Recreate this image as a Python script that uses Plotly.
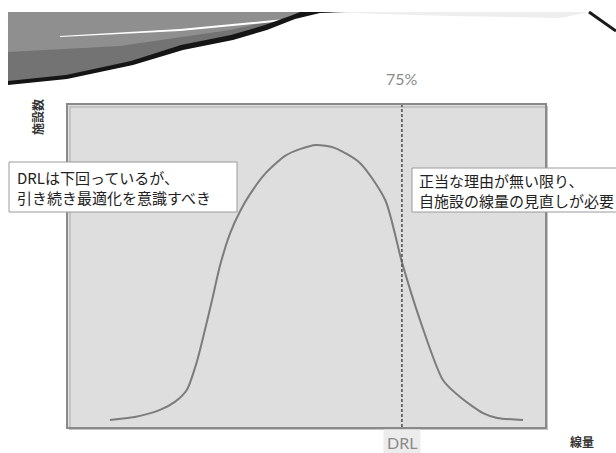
import plotly.graph_objects as go

# Dose distribution across facilities (arbitrary units)
dose = [8.8, 14.0, 19.3, 22.4, 24.9, 27.0, 28.7, 30.2, 31.9, 34.0, 36.1, 38.2,
        41.3, 45.5, 48.6, 52.0, 56.0, 61.2, 66.5, 70.0, 73.8, 78.6, 82.2, 87.0,
        90.0, 95.4]
facilities = [2.2, 3.1, 5.3, 7.8, 11.5, 20.2, 30.1, 39.4, 50.3, 60.2, 67.1, 72.4,
              78.6, 84.2, 86.3, 87.6, 86.6, 82.0, 70.5, 51.2, 33.2, 14.6, 9.3, 4.3,
              2.8, 2.2]
drl_value = 70.0
drl_percentile = "75%"
x_title = "線量"
y_title = "施設数"
note_left = ["DRLは下回っているが、", "引き続き最適化を意識すべき"]
note_right = ["正当な理由が無い限り、", "自施設の線量の見直しが必要"]

W, H = 616, 453
L, R, T, B = 68, 545, 105, 427

JP = "Noto Sans CJK JP"
LAT = "Lato, Noto Sans, sans-serif"


def px(x):
    return (x - L) / (R - L)


def py(y):
    return (B - y) / (B - T)


def path(points, close=True):
    s = "M " + " L ".join(f"{px(x):.4f},{py(y):.4f}" for x, y in points)
    return s + (" Z" if close else "")


fig = go.Figure()

fig.add_trace(go.Scatter(
    x=dose, y=facilities, mode="lines",
    line=dict(color="#7c7c7c", width=2, shape="spline", smoothing=0.7),
    hoverinfo="skip", showlegend=False,
))
fig.add_trace(go.Scatter(
    x=[drl_value, drl_value], y=[0, 100], mode="lines",
    line=dict(color="#555555", width=1.6, dash="3px,2px"),
    hoverinfo="skip", showlegend=False,
))

shapes = []

# decorative swoosh in the header
edge = [(300, 13), (293, 17), (267, 27), (233, 37), (183, 47), (133, 63),
        (67, 77), (8, 83)]
shapes.append(dict(type="path", xref="paper", yref="paper", layer="above",
                   path=path([(8, 12), (330, 12)] + edge),
                   fillcolor="#8f8f8f", line=dict(width=0)))
shapes.append(dict(type="path", xref="paper", yref="paper", layer="above",
                   path=path([(8, 52), (120, 46), (230, 30), (290, 17)] + edge[1:]),
                   fillcolor="#737373", line=dict(width=0)))
shapes.append(dict(type="path", xref="paper", yref="paper", layer="above",
                   path=path([(60, 36), (180, 29), (285, 19), (285, 21), (180, 31),
                              (60, 37)]),
                   fillcolor="#ffffff", line=dict(width=0)))
shapes.append(dict(type="path", xref="paper", yref="paper", layer="above",
                   path=path([(8, 85), (67, 79), (133, 65), (183, 50), (233, 40),
                              (267, 30), (295, 19), (320, 13), (350, 12), (300, 12),
                              (290, 16), (265, 25), (231, 35), (181, 45), (131, 61),
                              (66, 75), (8, 81)]),
                   fillcolor="#151515", line=dict(width=0)))
shapes.append(dict(type="path", xref="paper", yref="paper", layer="above",
                   path=path([(330, 12), (590, 12), (560, 18), (450, 16), (380, 14)]),
                   fillcolor="#eeeeee", line=dict(width=0)))
shapes.append(dict(type="line", xref="paper", yref="paper", layer="above",
                   x0=px(589), y0=py(12), x1=px(616), y1=py(31),
                   line=dict(color="#1a1a1a", width=3)))

# soft shadow behind the plot frame
shapes.append(dict(type="rect", xref="paper", yref="paper", layer="below",
                   x0=px(L + 2), y0=py(B + 2), x1=px(R + 2), y1=py(T + 2),
                   line=dict(color="#c4c4c4", width=2), fillcolor="rgba(0,0,0,0)"))

# note boxes
shapes.append(dict(type="rect", xref="paper", yref="paper", layer="above",
                   x0=px(9), y0=py(212), x1=px(237), y1=py(162),
                   line=dict(color="#9a9a9a", width=1), fillcolor="#ffffff"))
shapes.append(dict(type="rect", xref="paper", yref="paper", layer="above",
                   x0=px(412), y0=py(212), x1=px(640), y1=py(168),
                   line=dict(color="#9a9a9a", width=1), fillcolor="#ffffff"))

annotations = [
    dict(xref="paper", yref="paper", x=px(15), y=py(187), xanchor="left",
         yanchor="middle", align="left", showarrow=False,
         text="<br>".join(note_left),
         font=dict(family=JP, size=15, color="#222222")),
    dict(xref="paper", yref="paper", x=px(417), y=py(190), xanchor="left",
         yanchor="middle", align="left", showarrow=False,
         text="<br>".join(note_right),
         font=dict(family=JP, size=15, color="#222222")),
    dict(xref="x", yref="paper", x=drl_value, y=py(79), xanchor="center",
         yanchor="middle", showarrow=False, text=drl_percentile,
         font=dict(family=LAT, size=16, color="#8a8a8a")),
    dict(xref="x", yref="paper", x=drl_value, y=py(442), xanchor="center",
         yanchor="middle", showarrow=False, text="DRL",
         bgcolor="#ececec", borderpad=3,
         font=dict(family=LAT, size=16, color="#8a8a8a")),
    dict(xref="paper", yref="paper", x=px(582), y=py(441), xanchor="center",
         yanchor="middle", showarrow=False, text=f"<b>{x_title}</b>",
         font=dict(family=JP, size=12, color="#333333")),
    dict(xref="paper", yref="paper", x=px(38), y=py(117), xanchor="center",
         yanchor="middle", showarrow=False, textangle=-90,
         text=f"<b>{y_title}</b>",
         font=dict(family=JP, size=12, color="#333333")),
]

fig.update_layout(
    width=W, height=H, autosize=False,
    margin=dict(l=L, r=W - R, t=T, b=H - B, pad=0),
    paper_bgcolor="#ffffff", plot_bgcolor="#dedede",
    xaxis=dict(range=[0, 100], showgrid=False, zeroline=False, showticklabels=False,
               ticks="", showline=True, mirror=True, linecolor="#8a8a8a", linewidth=2),
    yaxis=dict(range=[0, 100], showgrid=False, zeroline=False, showticklabels=False,
               ticks="", showline=True, mirror=True, linecolor="#8a8a8a", linewidth=2),
    shapes=shapes, annotations=annotations, showlegend=False,
)

fig.write_html("out.html")
